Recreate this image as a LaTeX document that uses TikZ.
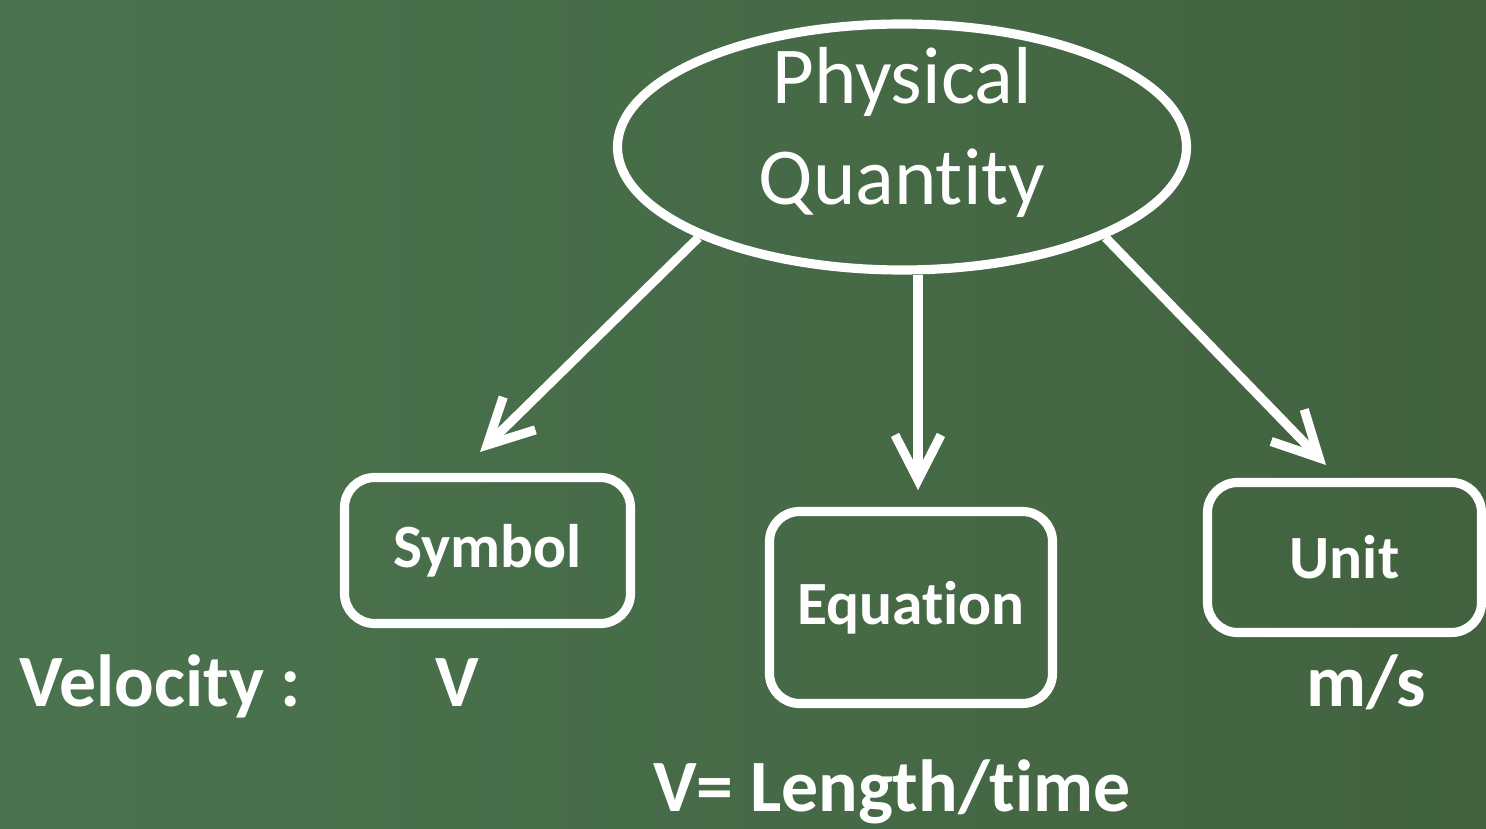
\documentclass[tikz,border=0pt]{standalone}
\usepackage{fontspec}
\setmainfont{Carlito}[Ligatures={NoCommon,NoContextual}]
\usetikzlibrary{arrows.meta, positioning, shapes.geometric}
\definecolor{BoardGreen}{HTML}{4B734F}
\definecolor{BoardDark}{HTML}{42623F}

\begin{document}
\begin{tikzpicture}[>={Straight Barb[length=4.5mm, width=4.6mm]}, line width=2.6pt,
  chalk/.style={draw=white, line width=2.6pt, text=white},
  item/.style={chalk, rounded corners=3mm, inner sep=0pt,
               font=\fontsize{17.5}{21}\selectfont\bfseries},
  answer/.style={text=white, inner sep=0pt, anchor=base,
                 font=\fontsize{21}{25}\selectfont\bfseries}]
  \shade[left color=BoardGreen, right color=BoardDark] (0,0) rectangle (14.86,8.28);
  \useasboundingbox (0,0) rectangle (14.86,8.28);

  \node[chalk, ellipse, minimum width=5.69cm, minimum height=2.46cm,
        inner sep=0pt, align=center, text height=1.26cm, text depth=0.1cm,
        font=\fontsize{23}{29}\selectfont] (pq) at (9.02,6.81)
    {Physical\\Quantity};

  \node[item, minimum width=2.86cm, minimum height=1.46cm] (sym) at (4.875,2.775)
    {Symbol};
  \node[item, minimum width=2.83cm, minimum height=1.92cm] (eq) at (9.11,2.205)
    {Equation};
  \node[item, minimum width=2.74cm, minimum height=1.50cm] (unit) at (13.445,2.705)
    {Unit};

  \coordinate (symtip) at (4.80,3.76);
  \coordinate (eqtip) at (9.18,3.38);
  \coordinate (unittip) at (13.26,3.63);

  \draw[->, white] (pq.204) -- (symtip);
  \draw[->, white] (pq.south -| eqtip) -- (eqtip);
  \draw[->, white] (pq.336) -- (unittip);

  \node[answer, anchor=base west] (vel) at (0.15,1.21) {Velocity :};
  \node[answer] (symv) at (4.575,1.21) {V};
  \node[answer] (unitv) at (13.665,1.21) {m/s};
  \node[answer] (eqv) at (8.92,0.16) {V= Length/time};
\end{tikzpicture}
\end{document}
